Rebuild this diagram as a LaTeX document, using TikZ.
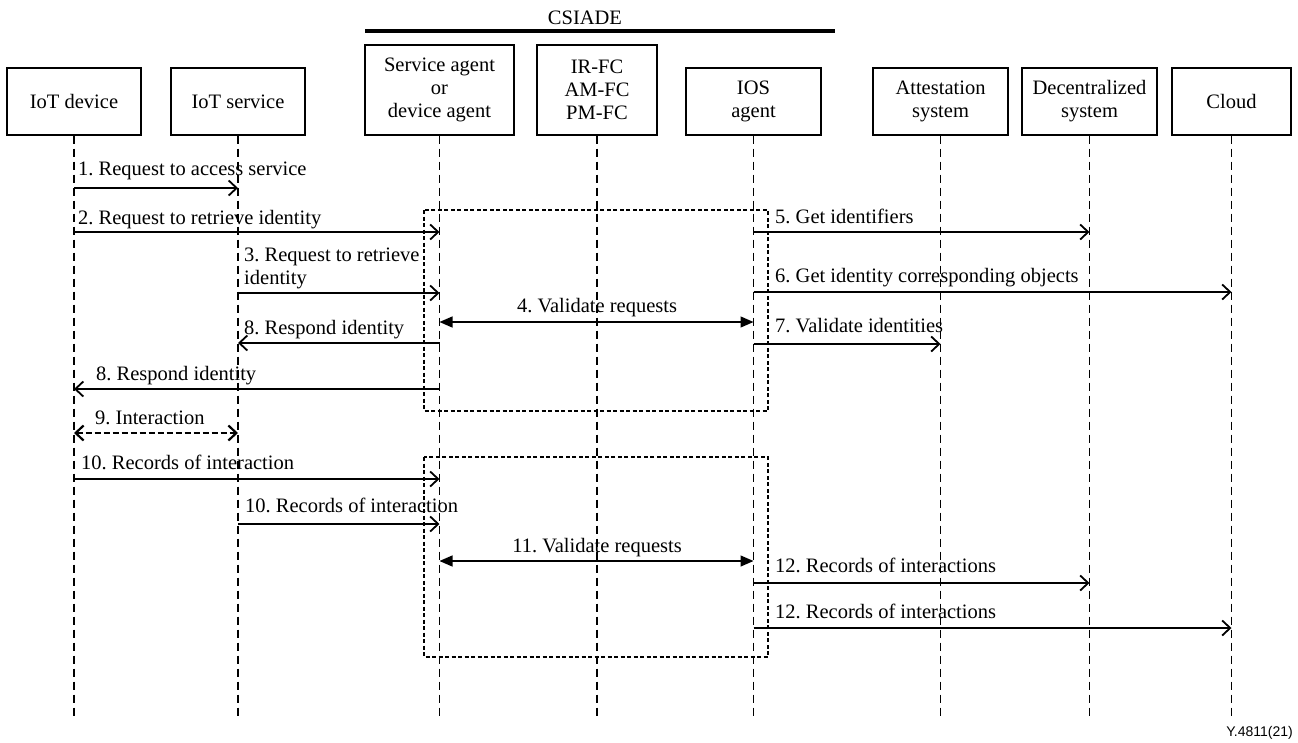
\documentclass[tikz,border=0pt]{standalone}
\usepackage{fontspec}
\setmainfont{Liberation Serif}
\newfontfamily\figfont{Liberation Sans}
\usetikzlibrary{arrows.meta}
\frenchspacing

\begin{document}
\begin{tikzpicture}[x=1pt,y=-1pt,
  every node/.style={font=\fontsize{20.5}{23}\selectfont, inner sep=0pt},
  actor/.style={draw, line width=1.4pt, align=center, minimum height=67pt},
  tallactor/.style={actor, minimum height=90pt},
  lifeline/.style={line width=1.1pt, dash pattern=on 8pt off 5pt},
  msg/.style={line width=1.3pt, -{Straight Barb[length=8pt,width=15pt,line width=1.8pt]}},
  valid/.style={line width=1.3pt, {Triangle[length=13pt,width=11pt]}-{Triangle[length=13pt,width=11pt]}},
  interact/.style={line width=2.4pt, dash pattern=on 6pt off 3pt,
    {Straight Barb[length=8pt,width=15pt,line width=2.2pt]}-{Straight Barb[length=8pt,width=15pt,line width=2.2pt]}},
  grp/.style={line width=2pt, dash pattern=on 4pt off 2.5pt},
  lbl/.style={anchor=base west, align=left},
  clbl/.style={anchor=base},
]
\useasboundingbox (0,0) rectangle (1298,742);

% CSIADE bracket
\coordinate (cs-l) at (365,31);
\coordinate (cs-r) at (835,31);
\draw[line width=3.2pt] (cs-l) -- (cs-r);
\node[clbl] (csiade) at (585,24.5) {CSIADE};

% participants
\node[actor, minimum width=134pt] (dev) at (74,101.5) {IoT device};
\node[actor, minimum width=134pt] (svc) at (238,101.5) {IoT service};
\node[tallactor, minimum width=149pt] (sag) at (439.5,90) {Service agent\\or\\device agent};
\node[tallactor, minimum width=120pt] (fc) at (597,90) {IR-FC\\AM-FC\\PM-FC};
\node[actor, minimum width=135pt] (ios) at (753.5,101.5) {IOS\\agent};
\node[actor, minimum width=135pt] (att) at (940.5,101.5) {Attestation\\system};
\node[actor, minimum width=135pt] (dec) at (1089.5,101.5) {Decentralized\\system};
\node[actor, minimum width=119pt] (cld) at (1231.5,101.5) {Cloud};

% lifelines
\coordinate (bottom) at (0,717);
\foreach \p in {dev,svc,sag,fc,ios,att,dec,cld}
  \draw[lifeline] (\p.south) -- (\p.south |- bottom);

% validation groups
\draw[grp] (424,210) rectangle (768,411);
\draw[grp] (424,457) rectangle (768,657);

% message rows
\coordinate (m1) at (0,188);
\coordinate (m2) at (0,232);
\coordinate (m3) at (0,293);
\coordinate (m4) at (0,322);
\coordinate (m8a) at (0,343);
\coordinate (m8b) at (0,389);
\coordinate (m5) at (0,232);
\coordinate (m6) at (0,292);
\coordinate (m7) at (0,344);
\coordinate (m9) at (0,433);
\coordinate (m10a) at (0,479);
\coordinate (m10b) at (0,524);
\coordinate (m11) at (0,561);
\coordinate (m12a) at (0,583);
\coordinate (m12b) at (0,628);

% messages
\draw[msg] (dev |- m1) -- (svc |- m1);
\node[lbl] (l1) at (78,175) {1. Request to access service};

\draw[msg] (dev |- m2) -- (sag |- m2);
\node[lbl] (l2) at (78,224) {2. Request to retrieve identity};

\draw[msg] (svc |- m3) -- (sag |- m3);
\node[lbl] (l3) at (244,284.5) {3. Request to retrieve\\identity};

\draw[valid] (sag |- m4) -- (ios |- m4);
\node[clbl] (l4) at (597,312) {4. Validate requests};

\draw[msg] (ios |- m5) -- (dec |- m5);
\node[lbl] (l5) at (775,223) {5. Get identifiers};

\draw[msg] (ios |- m6) -- (cld |- m6);
\node[lbl] (l6) at (775,282) {6. Get identity corresponding objects};

\draw[msg] (ios |- m7) -- (att |- m7);
\node[lbl] (l7) at (775,332) {7. Validate identities};

\draw[msg] (sag |- m8a) -- (svc |- m8a);
\node[lbl] (l8a) at (244,334) {8. Respond identity};

\draw[msg] (sag |- m8b) -- (dev |- m8b);
\node[lbl] (l8b) at (96,380) {8. Respond identity};

\draw[interact] (dev |- m9) -- (svc |- m9);
\node[lbl] (l9) at (95,424) {9. Interaction};

\draw[msg] (dev |- m10a) -- (sag |- m10a);
\node[lbl] (l10a) at (81,469) {10. Records of interaction};

\draw[msg] (svc |- m10b) -- (sag |- m10b);
\node[lbl] (l10b) at (245,512) {10. Records of interaction};

\draw[valid] (sag |- m11) -- (ios |- m11);
\node[clbl] (l11) at (597,552) {11. Validate requests};

\draw[msg] (ios |- m12a) -- (dec |- m12a);
\node[lbl] (l12a) at (775,572) {12. Records of interactions};

\draw[msg] (ios |- m12b) -- (cld |- m12b);
\node[lbl] (l12b) at (775,618) {12. Records of interactions};

% figure identifier
\node[font=\figfont\fontsize{14}{16}\selectfont, anchor=base east] (figid) at (1293,736) {Y.4811(21)};
\end{tikzpicture}
\end{document}
